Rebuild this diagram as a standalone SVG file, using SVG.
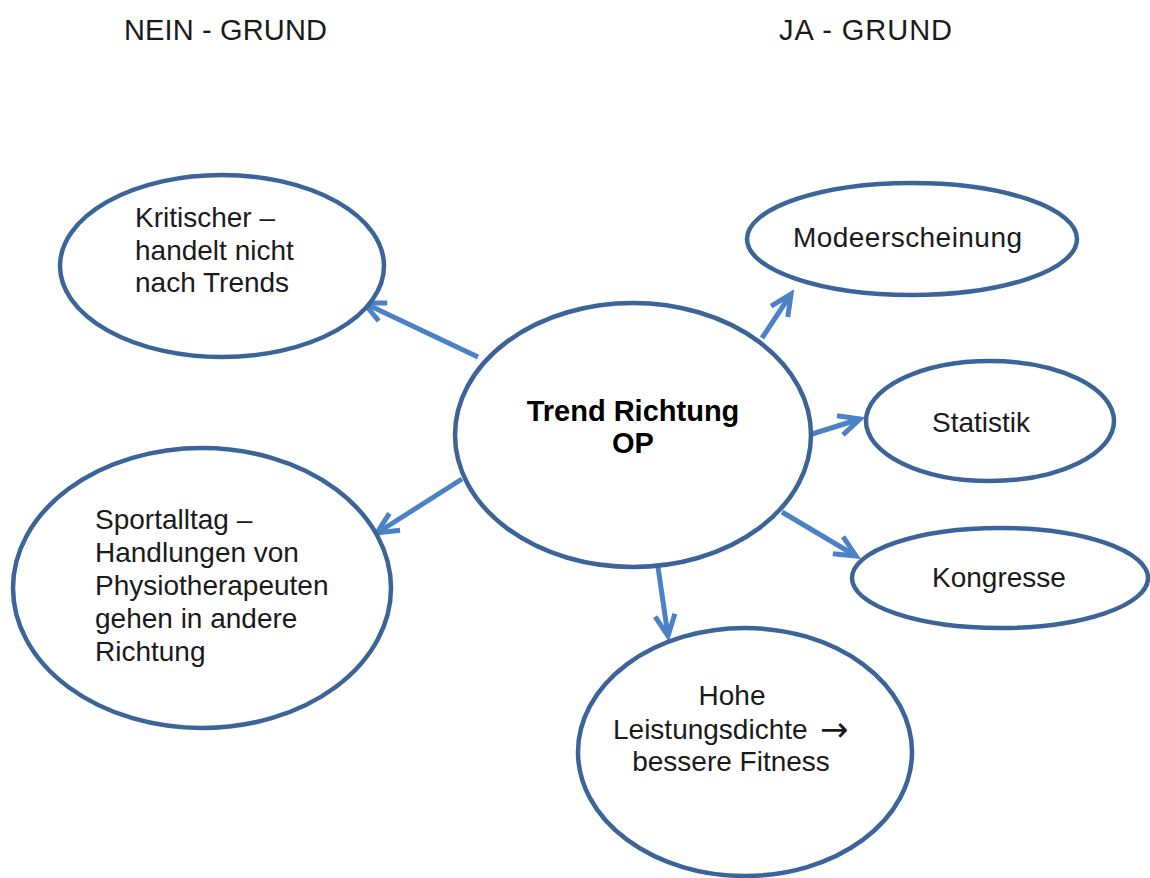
<svg xmlns="http://www.w3.org/2000/svg" width="1150" height="878" viewBox="0 0 1150 878">
  <style>
    .node { fill: #ffffff; stroke: #3b6498; stroke-width: 4.5; }
    .lbl { font-family: "Liberation Sans", Arial, sans-serif; font-size: 28px; fill: #1a1a1a; }
    .mid { text-anchor: middle; }
    .hdr { font-family: "Liberation Sans", Arial, sans-serif; font-size: 29px; fill: #1a1a1a; }
    .bold { font-weight: bold; font-size: 29px; fill: #000000; }
    .sym { font-family: "DejaVu Sans", sans-serif; font-size: 34px; }
    .link { stroke: #4b82c6; stroke-width: 5; fill: none; marker-end: url(#chev); }
  </style>
  <defs>
    <marker id="chev" markerUnits="userSpaceOnUse" viewBox="-26 -14 30 28" refX="0" refY="0" markerWidth="30" markerHeight="28" orient="auto" overflow="visible">
      <path d="M-21,-10 L0,0 L-21,10" fill="none" stroke="#4b82c6" stroke-width="5" stroke-linejoin="miter"/>
    </marker>
  </defs>
  <rect width="1150" height="878" fill="#ffffff"/>

  <!-- column headings -->
  <text class="hdr" x="124" y="40" textLength="203">NEIN - GRUND</text>
  <text class="hdr" x="779" y="40" textLength="173">JA - GRUND</text>

  <!-- connectors from the centre topic -->
  <g id="connectors">
    <line class="link" x1="478" y1="357" x2="364" y2="303"/>
    <line class="link" x1="762" y1="338" x2="791" y2="294"/>
    <line class="link" x1="812" y1="434" x2="860" y2="419"/>
    <line class="link" x1="782" y1="512" x2="856" y2="556"/>
    <line class="link" x1="658" y1="567" x2="668" y2="636"/>
    <line class="link" x1="462" y1="479" x2="377" y2="533"/>
  </g>

  <g id="center">
    <ellipse class="node" cx="633" cy="435" rx="178" ry="132"/>
    <text class="lbl bold mid" x="633" y="421">Trend Richtung</text>
    <text class="lbl bold mid" x="633" y="453">OP</text>
  </g>

  <g id="kritischer">
    <ellipse class="node" cx="222" cy="266" rx="162" ry="91"/>
    <text class="lbl" x="135" y="227">Kritischer –</text>
    <text class="lbl" x="135" y="260">handelt nicht</text>
    <text class="lbl" x="135" y="292">nach Trends</text>
  </g>

  <g id="sportalltag">
    <ellipse class="node" cx="202" cy="588" rx="189" ry="140"/>
    <text class="lbl" x="95" y="529">Sportalltag –</text>
    <text class="lbl" x="95" y="562">Handlungen von</text>
    <text class="lbl" x="95" y="595">Physiotherapeuten</text>
    <text class="lbl" x="95" y="628">gehen in andere</text>
    <text class="lbl" x="95" y="661">Richtung</text>
  </g>

  <g id="mode">
    <ellipse class="node" cx="912" cy="239" rx="165" ry="56"/>
    <text class="lbl" x="793" y="247" textLength="229">Modeerscheinung</text>
  </g>

  <g id="statistik">
    <ellipse class="node" cx="990" cy="421" rx="124" ry="60"/>
    <text class="lbl" x="932" y="432">Statistik</text>
  </g>

  <g id="kongresse">
    <ellipse class="node" cx="1000" cy="578" rx="148" ry="50"/>
    <text class="lbl" x="932" y="587">Kongresse</text>
  </g>

  <g id="leistung">
    <ellipse class="node" cx="745" cy="752" rx="167" ry="124"/>
    <text class="lbl mid" x="732" y="705">Hohe</text>
    <text class="lbl" x="613" y="739">Leistungsdichte <tspan class="sym" x="820" y="741">→</tspan></text>
    <text class="lbl mid" x="731" y="771">bessere Fitness</text>
  </g>
</svg>
